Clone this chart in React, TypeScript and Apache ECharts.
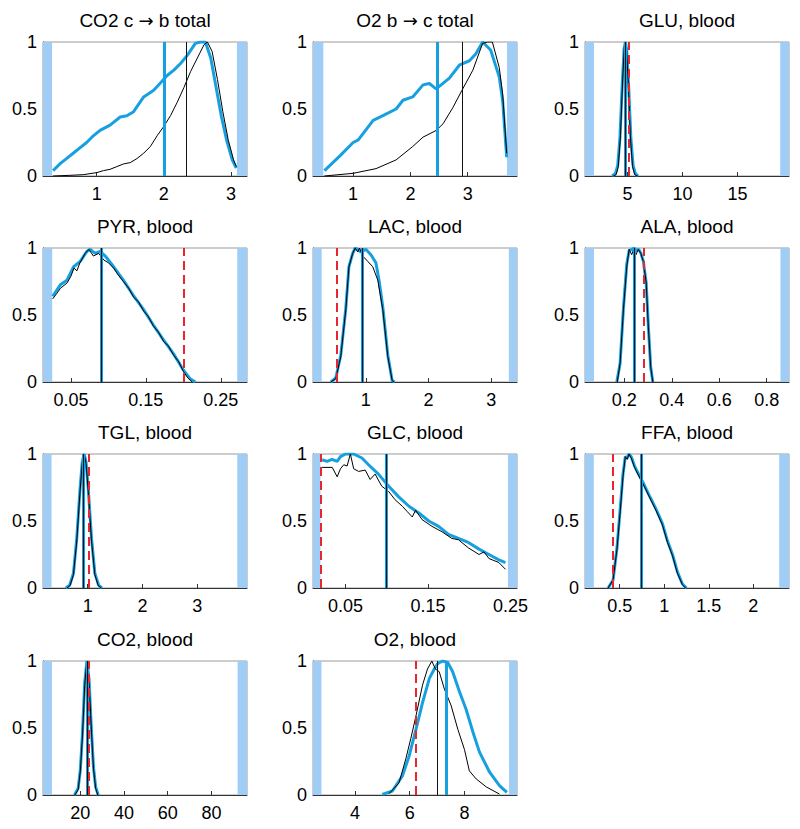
import React, { useEffect, useRef } from "react";
import * as echarts from "echarts";

const titles = [
  "CO2 c {a|\u2192} b total",
  "O2 b {a|\u2192} c total",
  "GLU, blood",
  "PYR, blood",
  "LAC, blood",
  "ALA, blood",
  "TGL, blood",
  "GLC, blood",
  "FFA, blood",
  "CO2, blood",
  "O2, blood",
];

const xMin = [0.2, 0.3, 1.12, 0.0127, 0.157, 0.034, 0.184, 0.0107, 0.111, 2.9, 2.47];
const xMax = [3.24, 3.86, 19.7, 0.285, 3.41, 0.894, 3.907, 0.258, 2.4, 96.3, 9.92];
const lowBand = [[0.2, 0.334], [0.3, 0.48], [1.12, 1.94], [0.0127, 0.025], [0.157, 0.295], [0.034, 0.072], [0.184, 0.34], [0.0107, 0.0197], [0.111, 0.21], [2.9, 7], [2.47, 2.78]];
const highBand = [[3.09, 3.24], [3.685, 3.86], [18.9, 19.7], [0.272, 0.285], [3.28, 3.41], [0.858, 0.894], [3.73, 3.907], [0.247, 0.258], [2.29, 2.4], [92, 96.3], [9.63, 9.92]];
const xTicks = [[1, 2, 3], [1, 2, 3], [5, 10, 15], [0.05, 0.15, 0.25], [1, 2, 3], [0.2, 0.4, 0.6, 0.8], [1, 2, 3], [0.05, 0.15, 0.25], [0.5, 1, 1.5, 2], [20, 40, 60, 80], [4, 6, 8]];

const blueMarker = [2, 2.46, 4.8, 0.094, 0.946, 0.243, 0.92, 0.104, 0.74, 23, 7.35];
const blackMarker = [2.33, 2.9, 4.8, 0.094, 0.946, 0.243, 0.92, 0.104, 0.74, 23, 7.0];
const redMarker: (number | null)[] = [null, null, 5.15, 0.2045, 0.535, 0.28, 1.01, 0.0217, 0.42, 23.8, 6.22];

// CO2 c -> b total
const co2cbBlue = [[0.35, 0.04], [0.45, 0.09], [0.55, 0.13], [0.65, 0.17], [0.75, 0.21], [0.85, 0.25], [0.95, 0.3], [1.05, 0.34], [1.2, 0.38], [1.35, 0.44], [1.45, 0.45], [1.55, 0.48], [1.7, 0.59], [1.85, 0.64], [1.96, 0.7], [2.05, 0.75], [2.15, 0.79], [2.25, 0.84], [2.35, 0.9], [2.47, 0.99], [2.55, 1.0], [2.62, 1.0], [2.7, 0.88], [2.78, 0.66], [2.86, 0.44], [2.94, 0.26], [3.02, 0.12], [3.08, 0.06]];
const co2cbBlack = [[0.35, 0.0], [0.6, 0.005], [0.8, 0.01], [1.0, 0.025], [1.1, 0.04], [1.2, 0.05], [1.3, 0.07], [1.4, 0.09], [1.5, 0.1], [1.6, 0.13], [1.7, 0.17], [1.8, 0.22], [1.9, 0.3], [2.0, 0.37], [2.1, 0.45], [2.2, 0.55], [2.3, 0.66], [2.4, 0.78], [2.5, 0.88], [2.6, 0.98], [2.65, 1.0], [2.72, 0.93], [2.8, 0.72], [2.88, 0.48], [2.96, 0.27], [3.04, 0.12], [3.08, 0.07]];
// O2 b -> c total
const o2bcBlue = [[0.5, 0.04], [0.77, 0.15], [1.0, 0.25], [1.09, 0.27], [1.35, 0.415], [1.52, 0.45], [1.75, 0.5], [1.87, 0.565], [2.04, 0.59], [2.22, 0.68], [2.33, 0.69], [2.45, 0.65], [2.68, 0.73], [2.86, 0.83], [3.03, 0.86], [3.14, 0.91], [3.26, 1.0], [3.4, 0.94], [3.55, 0.74], [3.61, 0.56], [3.68, 0.14]];
const o2bcBlack = [[0.5, 0.0], [1.0, 0.02], [1.4, 0.055], [1.75, 0.12], [2.04, 0.22], [2.22, 0.29], [2.45, 0.34], [2.57, 0.39], [2.74, 0.51], [2.9, 0.64], [3.09, 0.79], [3.26, 0.99], [3.35, 1.0], [3.43, 1.0], [3.55, 0.81], [3.61, 0.61], [3.68, 0.17]];
// GLU
const gluBlue = [[3.6, 0], [3.9, 0.02], [4.1, 0.08], [4.3, 0.28], [4.5, 0.66], [4.68, 0.95], [4.8, 1.0], [4.92, 0.94], [5.1, 0.66], [5.3, 0.28], [5.5, 0.08], [5.7, 0.02], [5.95, 0]];
const gluBlack = [[3.7, 0], [3.95, 0.01], [4.15, 0.07], [4.35, 0.3], [4.55, 0.72], [4.7, 0.96], [4.8, 1.0], [4.9, 0.95], [5.05, 0.72], [5.25, 0.3], [5.45, 0.07], [5.65, 0.01], [5.9, 0]];
// PYR
const pyrBlue = [[0.0256, 0.64], [0.0358, 0.725], [0.0447, 0.76], [0.0536, 0.86], [0.0624, 0.9], [0.0713, 0.975], [0.0758, 0.99], [0.0824, 0.96], [0.089, 0.975], [0.0958, 0.94], [0.107, 0.86], [0.12, 0.76], [0.134, 0.64], [0.147, 0.54], [0.16, 0.425], [0.174, 0.31], [0.187, 0.21], [0.2, 0.09], [0.209, 0.025], [0.216, 0.0]];
const pyrBlack = [[0.0256, 0.62], [0.031, 0.66], [0.036, 0.7], [0.045, 0.74], [0.05, 0.79], [0.054, 0.85], [0.058, 0.83], [0.062, 0.89], [0.069, 0.96], [0.074, 0.99], [0.08, 0.94], [0.087, 0.96], [0.094, 0.91], [0.1, 0.89], [0.107, 0.85], [0.113, 0.8], [0.12, 0.75], [0.127, 0.7], [0.134, 0.63], [0.14, 0.6], [0.147, 0.53], [0.153, 0.49], [0.16, 0.42], [0.167, 0.37], [0.174, 0.3], [0.18, 0.27], [0.187, 0.2], [0.194, 0.15], [0.2, 0.08], [0.206, 0.03], [0.212, 0.0]];
// LAC
const lacBlue = [[0.44, 0], [0.52, 0.03], [0.6, 0.2], [0.68, 0.55], [0.73, 0.86], [0.79, 0.96], [0.83, 1.0], [0.87, 0.99], [0.92, 0.97], [1.0, 0.99], [1.08, 0.95], [1.16, 0.89], [1.21, 0.76], [1.27, 0.56], [1.35, 0.2], [1.42, 0.01], [1.46, 0]];
const lacBlack = [[0.44, 0], [0.52, 0.025], [0.6, 0.19], [0.68, 0.54], [0.73, 0.86], [0.79, 0.96], [0.83, 1.0], [0.87, 0.97], [0.9, 1.0], [0.95, 0.94], [1.03, 0.9], [1.11, 0.86], [1.19, 0.76], [1.27, 0.54], [1.35, 0.19], [1.42, 0.01], [1.45, 0]];
// ALA
const alaBlue = [[0.168, 0], [0.182, 0.14], [0.196, 0.55], [0.21, 0.88], [0.22, 0.98], [0.231, 0.99], [0.241, 1.0], [0.25, 0.98], [0.26, 0.99], [0.27, 0.96], [0.28, 0.9], [0.292, 0.74], [0.301, 0.42], [0.311, 0.11], [0.32, 0]];
const alaBlack = [[0.17, 0], [0.182, 0.14], [0.196, 0.54], [0.21, 0.86], [0.22, 0.99], [0.231, 0.95], [0.241, 1.0], [0.249, 0.95], [0.259, 0.99], [0.269, 0.96], [0.28, 0.9], [0.292, 0.74], [0.301, 0.41], [0.311, 0.11], [0.32, 0]];
// TGL
const tglBlue = [[0.6, 0], [0.67, 0.02], [0.74, 0.11], [0.8, 0.37], [0.86, 0.74], [0.9, 0.94], [0.935, 1.0], [0.97, 0.94], [1.01, 0.74], [1.07, 0.37], [1.13, 0.11], [1.2, 0.02], [1.26, 0]];
const tglBlack = [[0.62, 0], [0.68, 0.02], [0.74, 0.1], [0.8, 0.35], [0.86, 0.72], [0.9, 0.93], [0.935, 1.0], [0.97, 0.93], [1.01, 0.72], [1.07, 0.35], [1.13, 0.1], [1.19, 0.02], [1.25, 0]];
// GLC
const glcBlue = [[0.0217, 0.957], [0.0278, 0.945], [0.0338, 0.96], [0.04, 0.945], [0.044, 0.98], [0.05, 1.0], [0.06, 1.0], [0.07, 0.97], [0.078, 0.92], [0.09, 0.85], [0.1025, 0.76], [0.1146, 0.68], [0.127, 0.61], [0.139, 0.56], [0.151, 0.5], [0.163, 0.46], [0.175, 0.4], [0.187, 0.37], [0.199, 0.34], [0.212, 0.29], [0.224, 0.25], [0.236, 0.21], [0.244, 0.19]];
const glcBlack = [[0.0217, 0.9], [0.034, 0.9], [0.04, 0.83], [0.044, 0.89], [0.048, 0.92], [0.052, 0.91], [0.056, 1.0], [0.06, 0.89], [0.066, 0.87], [0.074, 0.88], [0.08, 0.81], [0.086, 0.85], [0.094, 0.76], [0.1025, 0.72], [0.11, 0.66], [0.119, 0.61], [0.125, 0.57], [0.131, 0.53], [0.135, 0.58], [0.143, 0.51], [0.155, 0.46], [0.167, 0.42], [0.179, 0.37], [0.187, 0.36], [0.199, 0.3], [0.212, 0.25], [0.218, 0.27], [0.224, 0.22], [0.236, 0.19], [0.244, 0.14]];
// FFA
const ffaBlue = [[0.37, 0], [0.426, 0.06], [0.47, 0.3], [0.507, 0.6], [0.537, 0.85], [0.563, 0.98], [0.585, 0.97], [0.604, 1.0], [0.63, 0.98], [0.667, 0.91], [0.704, 0.86], [0.76, 0.79], [0.833, 0.69], [0.907, 0.59], [0.98, 0.48], [1.037, 0.35], [1.093, 0.25], [1.148, 0.12], [1.204, 0.03], [1.25, 0]];
const ffaBlack = [[0.37, 0], [0.426, 0.06], [0.47, 0.29], [0.507, 0.58], [0.537, 0.83], [0.563, 0.98], [0.585, 0.96], [0.604, 1.0], [0.63, 0.97], [0.667, 0.9], [0.704, 0.85], [0.76, 0.78], [0.833, 0.68], [0.907, 0.58], [0.98, 0.47], [1.037, 0.34], [1.093, 0.24], [1.148, 0.11], [1.204, 0.025], [1.24, 0]];
// CO2 blood
const co2Blue = [[17.3, 0], [19, 0.05], [20, 0.19], [21, 0.47], [22, 0.84], [23, 1.0], [24, 0.86], [25, 0.51], [26, 0.21], [27, 0.06], [28.2, 0]];
const co2Black = [[17.5, 0], [19, 0.04], [20, 0.18], [21, 0.45], [22, 0.82], [23, 1.0], [24, 0.85], [25, 0.5], [26, 0.2], [27, 0.05], [28, 0]];
// O2 blood
const o2Blue = [[5.0, 0.005], [5.37, 0.03], [5.74, 0.145], [5.98, 0.29], [6.23, 0.49], [6.47, 0.69], [6.72, 0.87], [6.9, 0.94], [7.02, 0.98], [7.2, 1.0], [7.39, 0.99], [7.57, 0.92], [7.82, 0.77], [8.06, 0.64], [8.31, 0.47], [8.55, 0.32], [8.92, 0.17], [9.28, 0.07], [9.55, 0.02]];
const o2Black = [[5.25, 0.01], [5.61, 0.09], [5.86, 0.27], [6.04, 0.42], [6.23, 0.59], [6.47, 0.82], [6.65, 0.94], [6.81, 1.0], [6.94, 0.94], [7.08, 0.92], [7.27, 0.79], [7.51, 0.67], [7.76, 0.49], [8.0, 0.34], [8.18, 0.18], [8.43, 0.12], [8.8, 0.06], [9.28, 0.007]];

const blueCurves = [co2cbBlue, o2bcBlue, gluBlue, pyrBlue, lacBlue, alaBlue, tglBlue, glcBlue, ffaBlue, co2Blue, o2Blue];
const blackCurves = [co2cbBlack, o2bcBlack, gluBlack, pyrBlack, lacBlack, alaBlack, tglBlack, glcBlack, ffaBlack, co2Black, o2Black];

const FONT = "'Liberation Sans', Arial, Helvetica, sans-serif";
const BLUE = "#17a0e0";
const BAND = "#9fcdf6";
const RED = "#e8262b";

export default function App() {
  const ref = useRef<HTMLDivElement>(null);
  useEffect(() => {
    document.body.style.margin = "0";
    if (!ref.current) return;
    const chart = echarts.init(ref.current, undefined, { renderer: "svg" });
    const colLeft = [43, 313, 585];
    const rowTop = [42, 248, 454, 661];
    const W = 204;
    const H = 134;
    const grids: any[] = [];
    const xAxes: any[] = [];
    const yAxes: any[] = [];
    const series: any[] = [];
    const graphics: any[] = [];
    titles.forEach((t, i) => {
      const left = colLeft[i % 3];
      const top = rowTop[Math.floor(i / 3)];
      grids.push({ left, top, width: W, height: H, show: true, borderColor: "#9a9a9a", borderWidth: 1, backgroundColor: "transparent", containLabel: false });
      xAxes.push({
        type: "value", gridIndex: i, min: xMin[i], max: xMax[i],
        axisLine: { show: true, onZero: false, lineStyle: { color: "#333", width: 1 } },
        axisTick: { show: true, inside: true, length: 4, customValues: xTicks[i], lineStyle: { color: "#333" } },
        axisLabel: { show: true, customValues: xTicks[i], margin: 9, fontSize: 18, fontFamily: FONT, color: "#000", formatter: (v: number) => String(+Number(v).toFixed(4)) },
        splitLine: { show: false },
      });
      yAxes.push({
        type: "value", gridIndex: i, min: 0, max: 1, interval: 0.5,
        axisLine: { show: true, lineStyle: { color: "#333", width: 1 } },
        axisTick: { show: true, inside: true, length: 4, lineStyle: { color: "#333" } },
        axisLabel: { show: true, margin: 6, fontSize: 18, fontFamily: FONT, color: "#000", formatter: (v: number) => String(v) },
        splitLine: { show: false },
      });
      graphics.push({
        type: "text", x: left + W / 2, y: top - 22, z: 10,
        style: {
          text: t, font: `19px ${FONT}`, fill: "#000", align: "center", verticalAlign: "middle", textAlign: "center", textVerticalAlign: "middle",
          rich: { a: { fontFamily: "'DejaVu Sans', sans-serif", fontSize: 18, fill: "#000" } },
        },
      });
      // bands
      series.push({
        type: "line", xAxisIndex: i, yAxisIndex: i, data: blackCurves[i], showSymbol: false, silent: true, z: 1,
        lineStyle: { opacity: 0 },
        markArea: { silent: true, itemStyle: { color: BAND, opacity: 1 }, data: [[{ xAxis: lowBand[i][0] }, { xAxis: lowBand[i][1] }], [{ xAxis: highBand[i][0] }, { xAxis: highBand[i][1] }]] },
      });
      series.push({ type: "line", xAxisIndex: i, yAxisIndex: i, data: blueCurves[i], showSymbol: false, silent: true, z: 2, lineStyle: { color: BLUE, width: 3 } });
      series.push({ type: "line", xAxisIndex: i, yAxisIndex: i, data: blackCurves[i], showSymbol: false, silent: true, z: 3, lineStyle: { color: "#000", width: 1 } });
      const marks: any[] = [
        { xAxis: blueMarker[i], lineStyle: { color: BLUE, width: 3, type: "solid" } },
        { xAxis: blackMarker[i], lineStyle: { color: "#111", width: 1, type: "solid" } },
      ];
      if (redMarker[i] !== null) marks.push({ xAxis: redMarker[i], lineStyle: { color: RED, width: 2, type: [9, 5] } });
      series.push({
        type: "line", xAxisIndex: i, yAxisIndex: i, data: [], showSymbol: false, silent: true, z: 4,
        markLine: { silent: true, symbol: "none", label: { show: false }, animation: false, data: marks },
      });
    });
    chart.setOption({
      animation: false,
      backgroundColor: "#fff",
      grid: grids,
      xAxis: xAxes,
      yAxis: yAxes,
      series,
      graphic: graphics,
    });
    return () => chart.dispose();
  }, []);
  return <div ref={ref} style={{ width: 800, height: 829 }} />;
}
